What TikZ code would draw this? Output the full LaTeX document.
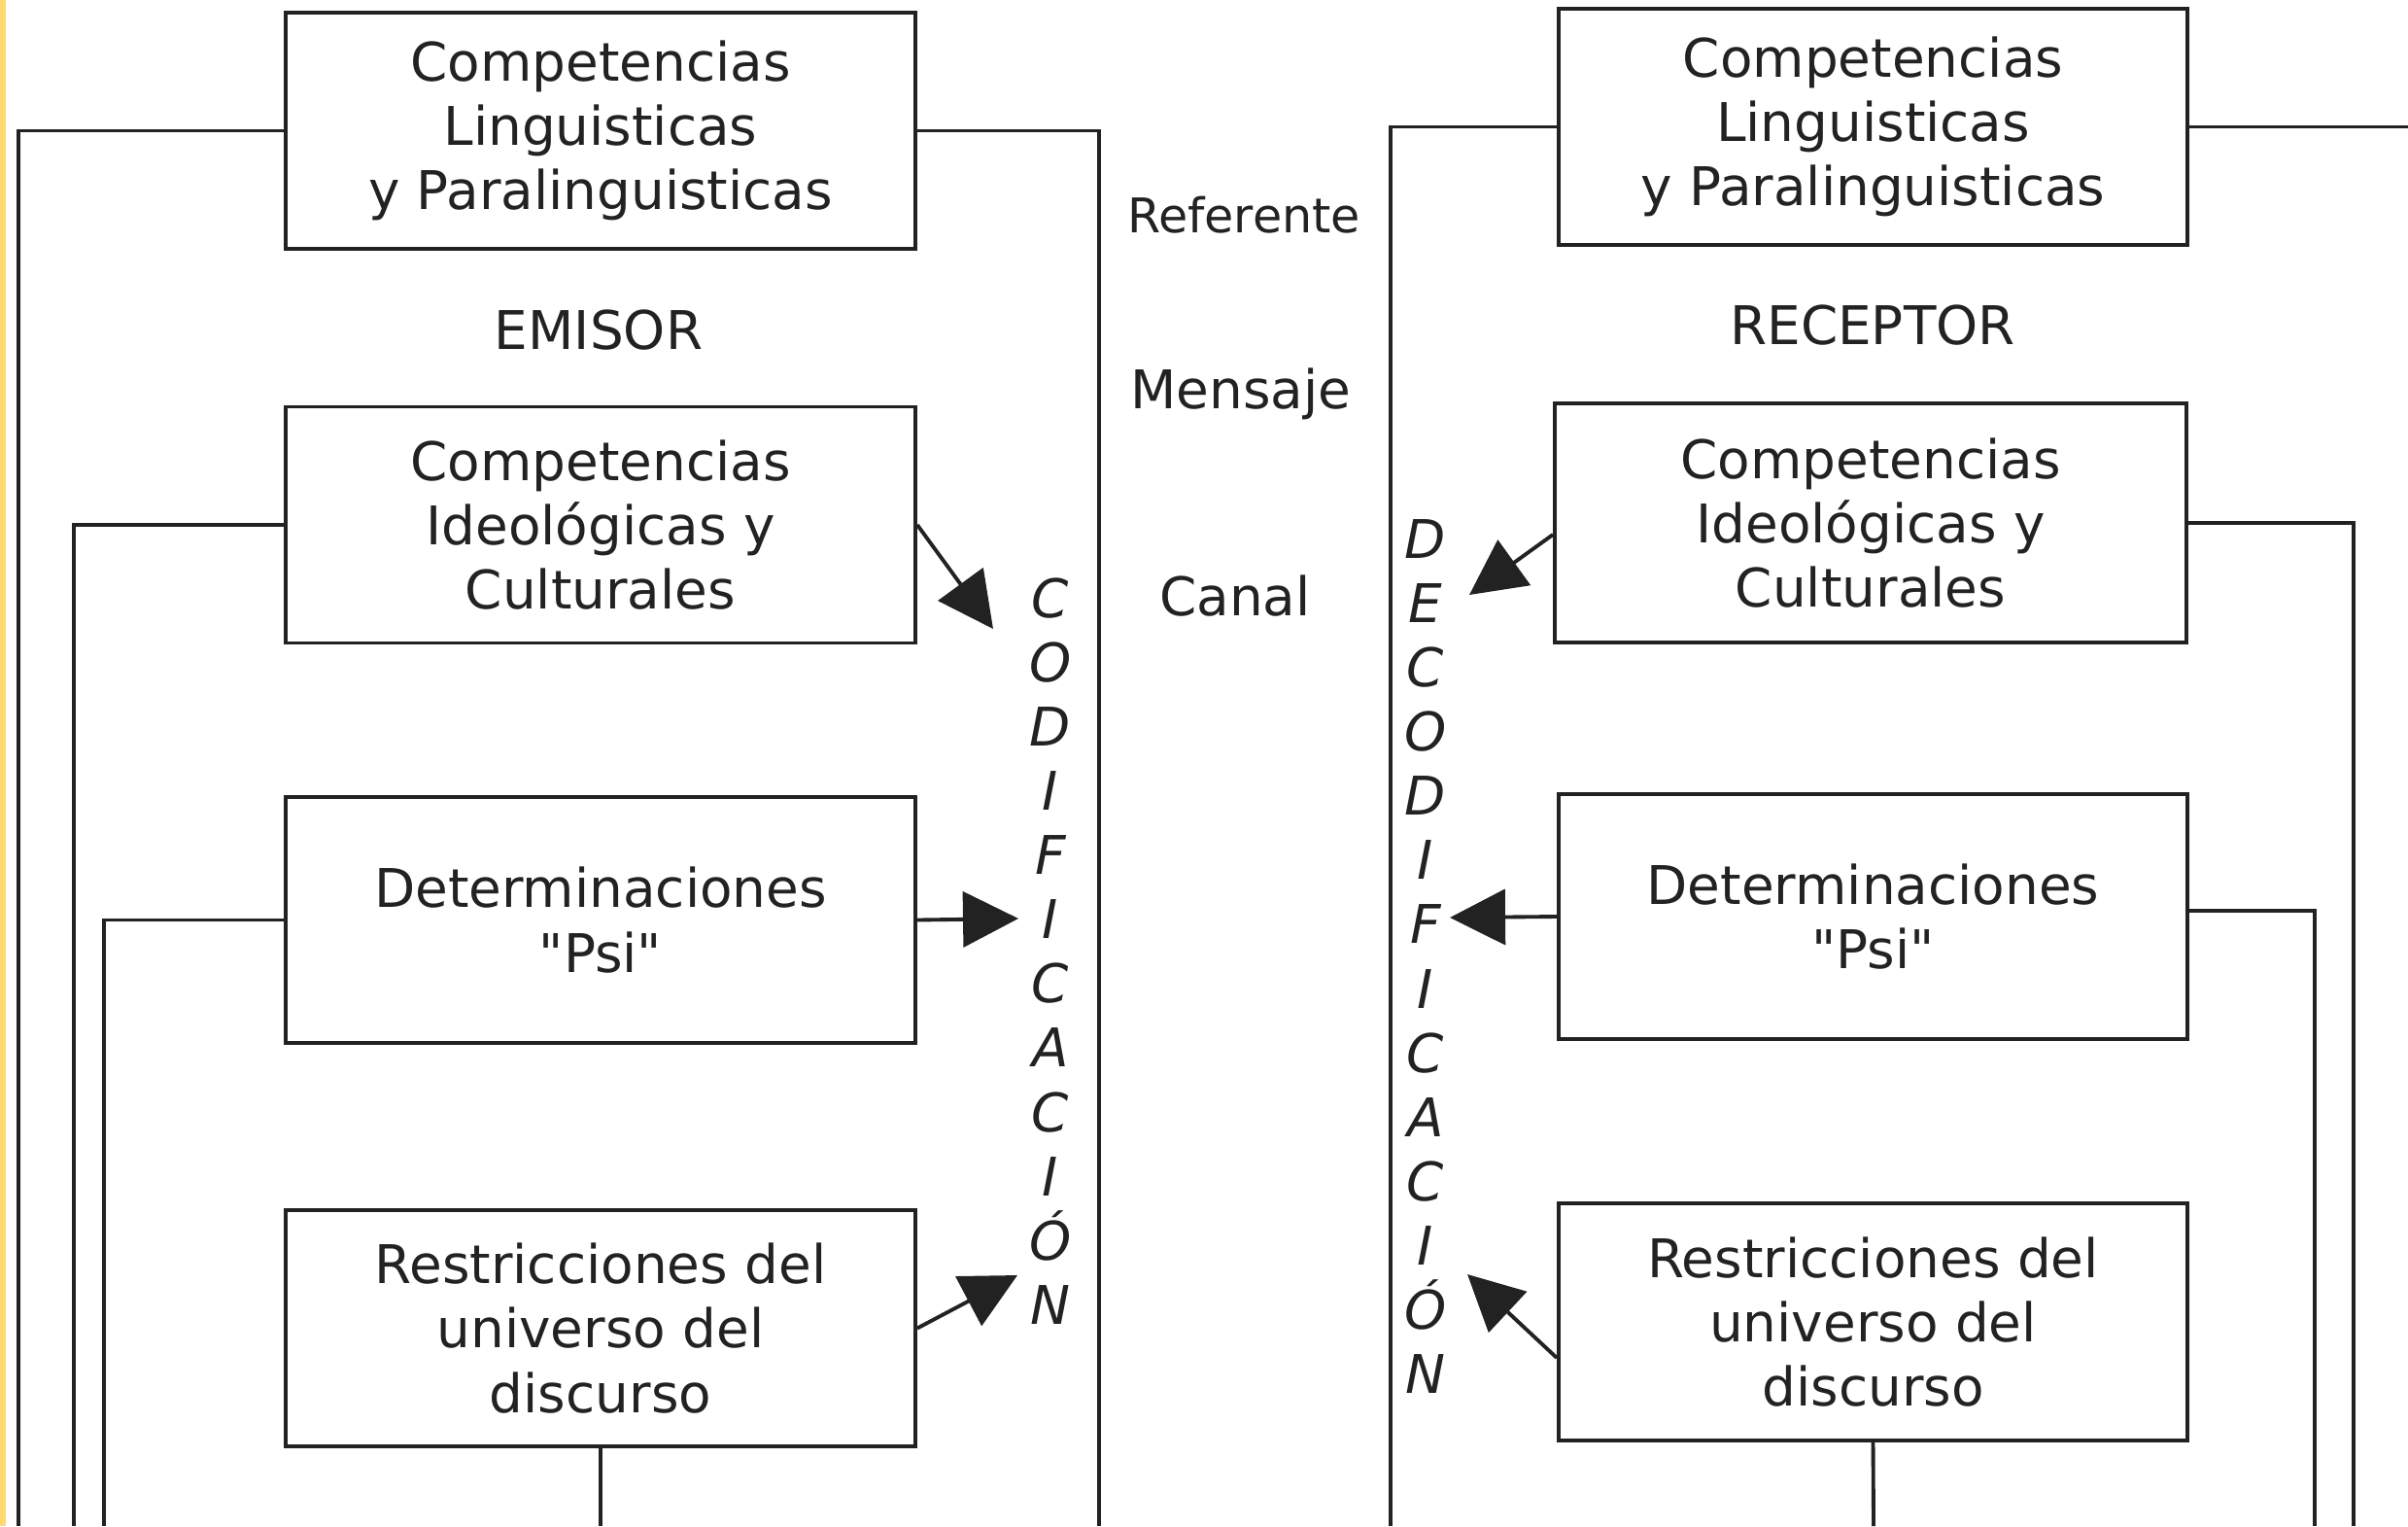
\documentclass[tikz,border=0pt]{standalone}
\usepackage{fontspec}
\setmainfont{DejaVu Sans}[Ligatures=TeXOff]
\usetikzlibrary{arrows.meta}
\definecolor{linea}{HTML}{222222}
\definecolor{borde}{HTML}{FFD970}

\begin{document}
\begin{tikzpicture}[
  caja/.style={draw=linea, line width=1.1pt, minimum width=6.48cm, minimum height=2.43cm, align=center, inner sep=0pt},
  flecha/.style={-{Triangle[length=5.7mm,width=5.7mm]}, line width=1.1pt, draw=linea},
  linea/.style={line width=1.1pt, draw=linea},
  letras/.style={align=center, font=\fontsize{15.6pt}{18.8pt}\selectfont\itshape, inner sep=0pt},
  font=\fontsize{15.6pt}{18.8pt}\selectfont, text=linea]
\useasboundingbox (0,0) rectangle (24.78,-15.70);
\fill [borde] (0,0) rectangle (0.06,-15.70);

% emisor
\node [caja] (lingE) at (6.18,-1.345) {Competencias\\Linguisticas\\y Paralinguisticas};
\node (emisor) at (6.16,-3.40) {EMISOR};
\node [caja] (ideoE) at (6.18,-5.40) {Competencias\\Ideológicas y\\Culturales};
\node [caja, minimum height=2.53cm] (psiE) at (6.18,-9.465) {Determinaciones\\"Psi"};
\node [caja] (univE) at (6.18,-13.665) {Restricciones del\\universo del\\discurso};
\node [letras] (codif) at (10.81,-9.785) {C\\O\\D\\I\\F\\I\\C\\A\\C\\I\\Ó\\N};

% centro
\node [font=\fontsize{14pt}{17pt}\selectfont] (referente) at (12.80,-2.21) {Referente};
\node (mensaje) at (12.77,-4.05) {Mensaje};
\node (canal) at (12.71,-6.13) {Canal};

% receptor
\node [caja, minimum width=6.47cm] (lingR) at (19.275,-1.305) {Competencias\\Linguisticas\\y Paralinguisticas};
\node (receptor) at (19.27,-3.35) {RECEPTOR};
\node [caja, minimum width=6.5cm, minimum height=2.46cm] (ideoR) at (19.25,-5.38) {Competencias\\Ideológicas y\\Culturales};
\node [caja, minimum width=6.47cm, minimum height=2.52cm] (psiR) at (19.275,-9.43) {Determinaciones\\"Psi"};
\node [caja, minimum width=6.47cm, minimum height=2.44cm] (univR) at (19.275,-13.60) {Restricciones del\\universo del\\discurso};
\node [letras] (decodif) at (14.67,-9.84) {D\\E\\C\\O\\D\\I\\F\\I\\C\\A\\C\\I\\Ó\\N};

% extremos libres
\coordinate (fE1) at (0.19,-15.70);
\coordinate (fE2) at (0.76,-15.70);
\coordinate (fE3) at (1.07,-15.70);
\coordinate (fE4) at (6.18,-15.70);
\coordinate (fE5) at (11.31,-15.70);
\coordinate (fR1) at (14.31,-15.70);
\coordinate (fR2) at (24.78,0);
\coordinate (fR3) at (24.22,-15.70);
\coordinate (fR4) at (23.82,-15.70);
\coordinate (fR5) at (19.28,-15.70);
\coordinate (tE1) at (10.22,-6.47);
\coordinate (tE2) at (10.48,-9.45);
\coordinate (tE3) at (10.47,-13.12);
\coordinate (tR1) at (15.12,-6.12);
\coordinate (tR2) at (14.92,-9.44);
\coordinate (tR3) at (15.10,-13.11);

\draw [linea] (lingE.west) -| (fE1);
\draw [linea] (ideoE.west) -| (fE2);
\draw [linea] (psiE.west) -| (fE3);
\draw [linea] (univE.south) -- (fE4);
\draw [linea] (lingE.east) -| (fE5);
\draw [linea] (lingR.west) -| (fR1);
\draw [linea] (lingR.east) -- (lingR.east -| fR2);
\draw [linea] (ideoR.east) -| (fR3);
\draw [linea] ([yshift=0.6mm]psiR.east) -| (fR4);
\draw [linea] (univR.south) -- (fR5);

\draw [flecha] (ideoE.east) -- (tE1);
\draw [flecha] (psiE.east) -- (tE2);
\draw [flecha] (univE.east) -- (tE3);
\draw [flecha] ([yshift=-1.2mm]ideoR.west) -- (tR1);
\draw [flecha] (psiR.west) -- (tR2);
\draw [flecha] ([yshift=-3.7mm]univR.west) -- (tR3);
\end{tikzpicture}
\end{document}
